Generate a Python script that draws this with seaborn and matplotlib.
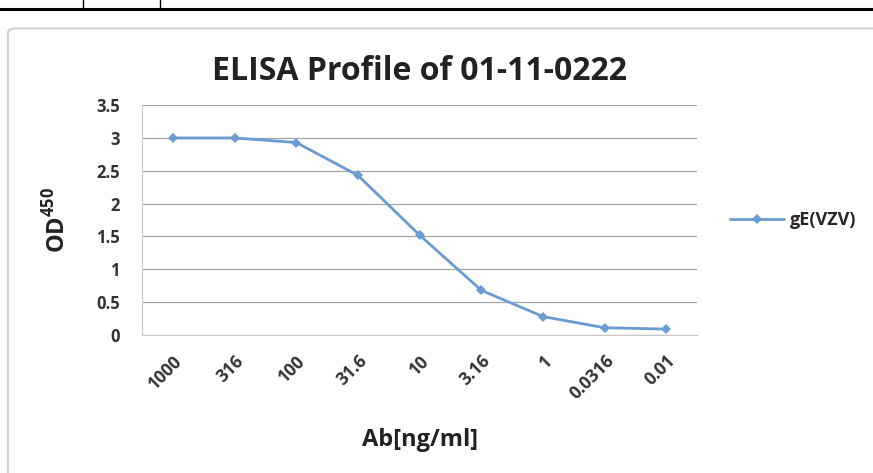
import pandas as pd
import matplotlib
matplotlib.use("Agg")
import matplotlib.pyplot as plt
import seaborn as sns
from matplotlib.patches import FancyBboxPatch
from matplotlib.lines import Line2D

# data
concentrations = ["1000", "316", "100", "31.6", "10", "3.16", "1", "0.0316", "0.01"]
od450 = [3.00, 3.00, 2.93, 2.43, 1.52, 0.68, 0.28, 0.11, 0.09]
series_name = "gE(VZV)"

df = pd.DataFrame({"conc": concentrations, "od": od450, "series": series_name})

sns.set_style("white")
plt.rcParams['font.family'] = ['Open Sans', 'DejaVu Sans']
plt.rcParams['mathtext.fontset'] = 'custom'
plt.rcParams['mathtext.rm'] = 'Open Sans:bold'
plt.rcParams['mathtext.bf'] = 'Open Sans:bold'

fig = plt.figure(figsize=(8.73, 4.73), dpi=100)
ax = fig.add_axes([0.1627, 0.2918, 0.636, 0.486])

sns.lineplot(data=df, x="conc", y="od", hue="series", palette=["#6a9bd1"],
             marker="D", markersize=5, markeredgewidth=0, linewidth=2,
             sort=False, ax=ax)

ax.set_ylim(0, 3.5)
ax.set_xlim(-0.5, len(concentrations) - 0.5)
ax.set_yticks([0, 0.5, 1, 1.5, 2, 2.5, 3, 3.5])
ax.set_yticklabels(["0", "0.5", "1", "1.5", "2", "2.5", "3", "3.5"],
                   fontweight="bold", fontsize=12, color="#333333")
ax.set_xticks(range(len(concentrations)))
ax.set_xticklabels(concentrations, rotation=45, ha="right", rotation_mode="anchor",
                   fontweight="bold", fontsize=12.5, color="#333333")
ax.tick_params(axis="y", length=0, pad=16)
ax.tick_params(axis="x", length=0, pad=12)
ax.yaxis.grid(True, color="#a6a6a6", linewidth=0.9)
for s in ["top", "right"]:
    ax.spines[s].set_visible(False)
ax.spines["left"].set_color("#c8c8c8")
ax.spines["bottom"].set_color("#c8c8c8")

ax.set_title("ELISA Profile of 01-11-0222", fontsize=23, fontweight="bold",
             color="#222222", pad=18)
ax.set_xlabel("Ab[ng/ml]", fontsize=17, fontweight="bold", color="#222222", labelpad=18)
ax.set_ylabel(r"$\mathbf{OD}^{\mathbf{450}}$", fontsize=17, color="#222222", labelpad=18)

ax.legend(loc="center left", bbox_to_anchor=(1.03, 0.5), frameon=False,
          prop={"weight": "bold", "size": 13}, handlelength=3.0, handletextpad=0.3)

# chart frame and the table rules above it
fig.add_artist(FancyBboxPatch((0.009, -0.05), 1.05, 0.99, boxstyle="round,pad=0,rounding_size=0.01",
                              transform=fig.transFigure, facecolor="none",
                              edgecolor="#cfcfcf", linewidth=1.5))
fig.add_artist(Line2D([0, 1], [0.982, 0.982], transform=fig.transFigure, color="black", linewidth=2.2))
fig.add_artist(Line2D([0.095, 0.095], [0.982, 1], transform=fig.transFigure, color="black", linewidth=1))
fig.add_artist(Line2D([0.183, 0.183], [0.982, 1], transform=fig.transFigure, color="black", linewidth=1))

fig.savefig("out.png", dpi=100)
